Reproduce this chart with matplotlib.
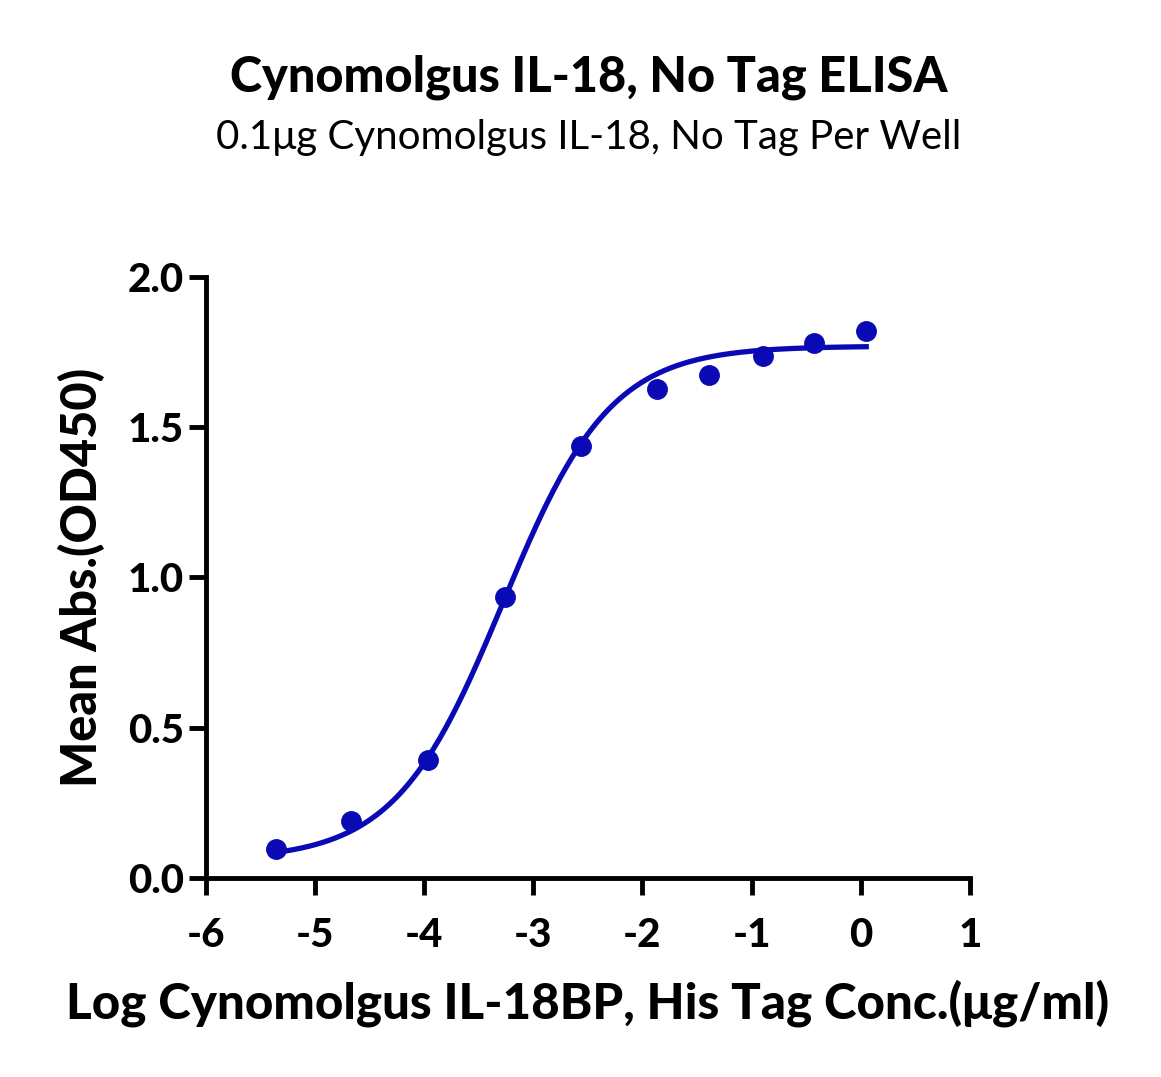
import matplotlib
matplotlib.use("Agg")
import matplotlib.pyplot as plt
import numpy as np

# measured points (log conc, mean OD450)
log_conc = [-5.36, -4.67, -3.97, -3.26, -2.56, -1.87, -1.39, -0.90, -0.43, 0.05]
mean_abs = [0.095, 0.19, 0.393, 0.935, 1.438, 1.627, 1.674, 1.737, 1.78, 1.82]

# 4PL fit parameters (bottom, top, logEC50, hill)
fit_bottom = 0.06
fit_top = 1.77
fit_logec50 = -3.28
fit_hill = 0.88

x_ticks = [-6, -5, -4, -3, -2, -1, 0, 1]
y_ticks = [0.0, 0.5, 1.0, 1.5, 2.0]

color = "#0a0ab4"
plt.rcParams['font.family'] = ['Lato', 'DejaVu Sans']
heavy = 'black'

fig = plt.figure(figsize=(11.61, 10.77), dpi=100)
ax = fig.add_axes([0.1774, 0.1848, 0.658, 0.558])

xs = np.linspace(min(log_conc), max(log_conc), 300)
ys = fit_bottom + (fit_top - fit_bottom) / (1 + 10 ** ((fit_logec50 - xs) * fit_hill))
ax.plot(xs, ys, color=color, lw=3.8, zorder=2)
ax.plot(log_conc, mean_abs, 'o', color=color, ms=14, zorder=3)

ax.set_xlim(-6, 1)
ax.set_ylim(0, 2.0)
ax.set_xticks(x_ticks)
ax.set_xticklabels([str(t) for t in x_ticks])
ax.set_yticks(y_ticks)
ax.set_yticklabels([f"{t:.1f}" for t in y_ticks])

for s in ['top', 'right']:
    ax.spines[s].set_visible(False)
for s in ['left', 'bottom']:
    ax.spines[s].set_linewidth(3.5)
ax.tick_params(width=3.5, length=12, labelsize=29)
ax.tick_params(axis='x', pad=16)
ax.tick_params(axis='y', pad=4)
for lab in ax.get_xticklabels() + ax.get_yticklabels():
    lab.set_fontweight(heavy)

ax.set_xlabel("Log Cynomolgus IL-18BP, His Tag Conc.(μg/ml)", fontsize=35.5, fontweight=heavy, labelpad=18)
ax.set_ylabel("Mean Abs.(OD450)", fontsize=35, fontweight=heavy, labelpad=16)

fig.text(0.507, 0.928, "Cynomolgus IL-18, No Tag ELISA", ha='center', va='center',
         fontsize=35, fontweight=heavy)
fig.text(0.507, 0.872, "0.1μg Cynomolgus IL-18, No Tag Per Well", ha='center', va='center',
         fontsize=29)

fig.savefig("out.png", dpi=100)
